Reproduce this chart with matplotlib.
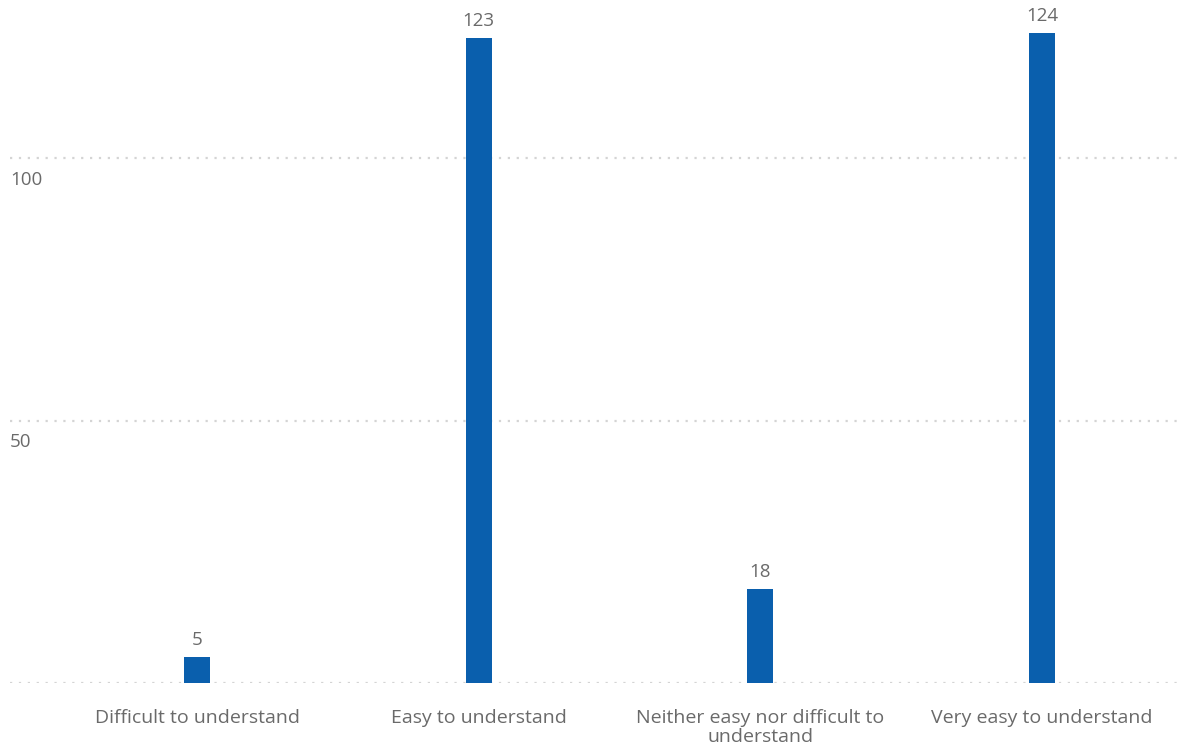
import matplotlib.pyplot as plt

plt.rcParams['font.family'] = ['Open Sans', 'DejaVu Sans']

# data
categories = ['Difficult to understand', 'Easy to understand',
              'Neither easy nor difficult to\nunderstand', 'Very easy to understand']
counts = [5, 123, 18, 124]
yticks = [0, 50, 100]

bar_color = '#0a5fad'
text_color = '#6a6a6a'

fig = plt.figure(figsize=(11.79, 7.49), dpi=100)
ax = fig.add_axes([10 / 1179, 66 / 749, 1169 / 1179, 683 / 749])

x = list(range(len(categories)))
ax.bar(x, counts, width=0.092, color=bar_color, zorder=3)

ax.set_xlim(-0.664, 3.486)
ax.set_ylim(0, 130.2)

# dotted gridlines and labels under them
for v in yticks:
    ax.axhline(v, color='#d4d4d4', linewidth=1.6, linestyle=(0, (1, 3)), zorder=1)
    if v > 0:
        ax.annotate(str(v), xy=(0, v), xycoords=('axes fraction', 'data'),
                    xytext=(0, -15.5), textcoords='offset points',
                    ha='left', va='center', fontsize=13.5, color=text_color)

# value labels
for xi, c in zip(x, counts):
    ax.annotate(str(c), xy=(xi, c), xytext=(0, 12), textcoords='offset points',
                ha='center', va='center', fontsize=13.5, color=text_color)

# category labels
for xi, lab in zip(x, categories):
    ax.annotate(lab, xy=(xi, 0), xytext=(0, -18.5), textcoords='offset points',
                ha='center', va='top', fontsize=14, color=text_color,
                linespacing=1.1, annotation_clip=False)

ax.set_xticks([])
ax.set_yticks([])
for s in ax.spines.values():
    s.set_visible(False)

fig.savefig('out.png', dpi=100)
